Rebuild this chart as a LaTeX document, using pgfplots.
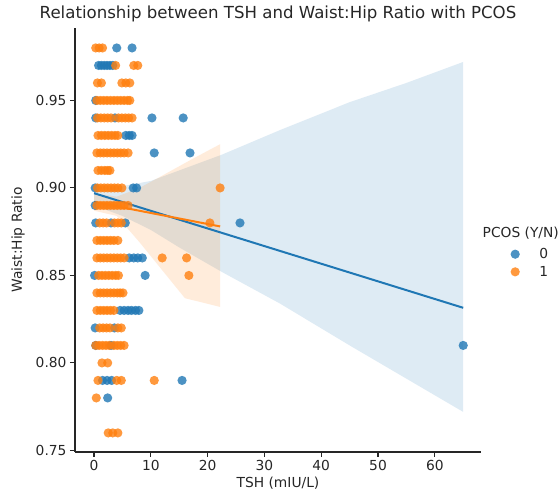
\documentclass[border=0pt]{standalone}
\usepackage{pgfplots}
\pgfplotsset{compat=1.18}
\usepackage{fontspec}
\setmainfont{DejaVu Sans}
\definecolor{cblue}{HTML}{1F77B4}
\definecolor{corange}{HTML}{FF7F0E}
\definecolor{txt}{HTML}{262626}
\begin{document}
\begin{tikzpicture}
\begin{axis}[
  at={(0,0)}, anchor=south west,
  scale only axis, width=406pt, height=424pt,
  xmin=-3.35, xmax=68.13, ymin=0.7491, ymax=0.9914,
  axis lines*=left,
  axis line style={color=txt, line width=1.1pt},
  tick align=outside, major tick length=5pt,
  tick style={color=txt, line width=1.1pt},
  xtick={0,10,20,30,40,50,60},
  ytick={0.75,0.80,0.85,0.90,0.95},
  yticklabel style={/pgf/number format/.cd, fixed, fixed zerofill, precision=2},
  /pgf/number format/assume math mode=true,
  ticklabel style={font=\fontsize{13.8}{16}\selectfont, text=txt},
  xlabel={TSH (mIU/L)}, ylabel={Waist:Hip Ratio},
  label style={font=\fontsize{13.8}{16}\selectfont, text=txt},
  xlabel style={at={(axis description cs:0.5,-0.073)}, anchor=center},
  ylabel style={at={(axis description cs:-0.140,0.5)}, anchor=center, rotate=0},
  clip=false,
  legend style={draw=none, fill=none, inner sep=0pt, outer sep=0pt,
    at={(axis description cs:1.0591,0.4458)}, anchor=west,
    font=\fontsize{13.8}{16}\selectfont, text=txt, row sep=6pt,
    nodes={inner sep=0pt, outer sep=0pt}},
  legend cell align=left,
  legend image code/.code={\path (0pt,0pt) (34pt,0pt); \draw[#1] plot coordinates {(10pt,0pt)};},
]
% blue scatter (PCOS = 0)
\addplot[only marks, color=cblue, mark=*, mark size=4.6pt, mark options={fill=cblue, fill opacity=0.8, draw opacity=0}] coordinates {
(4.0,0.98)(6.7,0.98)
(0.8,0.97)(1.3,0.97)(1.8,0.97)(2.3,0.97)(2.8,0.97)(3.3,0.97)
(0.3,0.95)
(0.3,0.94)(3.7,0.94)(10.2,0.94)(15.7,0.94)
(5.6,0.93)(6.2,0.93)(6.7,0.93)
(10.6,0.92)(16.9,0.92)
(0.2,0.90)(6.9,0.90)(7.5,0.90)
(0.2,0.89)
(0.3,0.88)(3.0,0.88)(5.5,0.88)(25.7,0.88)
(6.2,0.86)(7.0,0.86)(7.7,0.86)(8.5,0.86)
(0.1,0.85)(9.0,0.85)
(4.6,0.83)(5.3,0.83)(6.0,0.83)(6.6,0.83)(7.3,0.83)(7.9,0.83)
(0.2,0.82)(3.6,0.82)
(0.3,0.81)(3.0,0.81)(65.0,0.81)
(1.5,0.79)(2.3,0.79)(3.1,0.79)(15.5,0.79)
(2.4,0.78)
};
\addlegendentry{0}
% blue CI band
\addplot[fill=cblue, fill opacity=0.15, draw=none, forget plot] coordinates {
(0,0.901)(5,0.901)(10,0.904)(15,0.910)(22.5,0.919)(32.7,0.933)(45,0.949)(55,0.960)(65,0.972)
(65,0.772)(55,0.791)(45,0.810)(32.7,0.834)(22.5,0.852)(15,0.866)(10,0.876)(5,0.884)(0,0.890)
} -- cycle;
% orange scatter (PCOS = 1)
\addplot[only marks, color=corange, mark=*, mark size=4.6pt, mark options={fill=corange, fill opacity=0.8, draw opacity=0}] coordinates {
(0.3,0.98)(0.9,0.98)(1.5,0.98)
(3.8,0.97)(7.0,0.97)(7.7,0.97)
(0.6,0.96)(1.3,0.96)(4.9,0.96)(5.6,0.96)(6.3,0.96)
(0.5,0.95)(1.1,0.95)(1.7,0.95)(2.3,0.95)(2.9,0.95)(3.5,0.95)(4.1,0.95)(4.7,0.95)(5.3,0.95)(5.9,0.95)(6.3,0.95)
(0.6,0.94)(1.2,0.94)(1.8,0.94)(2.4,0.94)(3.0,0.94)(4.3,0.94)(4.9,0.94)(5.5,0.94)(6.1,0.94)(6.7,0.94)
(0.7,0.93)(1.3,0.93)(1.9,0.93)(2.5,0.93)(3.1,0.93)(3.7,0.93)(4.2,0.93)
(0.5,0.92)(1.1,0.92)(1.7,0.92)(2.3,0.92)(2.9,0.92)(3.5,0.92)(4.1,0.92)(4.7,0.92)(5.3,0.92)(6.0,0.92)
(0.7,0.91)(1.3,0.91)(1.9,0.91)(2.4,0.91)(2.8,0.91)
(0.6,0.90)(1.2,0.90)(1.8,0.90)(2.4,0.90)(3.0,0.90)(3.6,0.90)(4.2,0.90)(4.9,0.90)(22.2,0.90)
(0.5,0.89)(1.1,0.89)(1.7,0.89)(2.3,0.89)(2.9,0.89)(3.5,0.89)(4.1,0.89)(4.7,0.89)(5.3,0.89)(6.0,0.89)
(1.0,0.88)(1.6,0.88)(2.2,0.88)(3.6,0.88)(4.2,0.88)(4.8,0.88)(20.4,0.88)
(0.5,0.87)(1.1,0.87)(1.7,0.87)(2.3,0.87)(2.9,0.87)(3.5,0.87)(4.2,0.87)
(0.5,0.86)(1.1,0.86)(1.7,0.86)(2.3,0.86)(2.9,0.86)(3.5,0.86)(4.1,0.86)(4.7,0.86)(5.3,0.86)(12.0,0.86)(16.3,0.86)
(0.8,0.85)(1.4,0.85)(2.0,0.85)(2.6,0.85)(3.2,0.85)(3.8,0.85)(4.3,0.85)(16.7,0.85)
(0.5,0.84)(1.1,0.84)(1.7,0.84)(2.3,0.84)(2.9,0.84)(3.5,0.84)(4.1,0.84)(4.6,0.84)(5.1,0.84)
(0.5,0.83)(1.1,0.83)(1.7,0.83)(2.3,0.83)(2.9,0.83)(3.5,0.83)
(1.0,0.82)(1.6,0.82)(2.2,0.82)(2.8,0.82)(4.2,0.82)(4.8,0.82)
(0.3,0.81)(0.9,0.81)(1.5,0.81)(2.1,0.81)(2.7,0.81)(3.5,0.81)(4.1,0.81)(4.7,0.81)(5.3,0.81)
(1.4,0.80)(2.4,0.80)
(0.7,0.79)(4.0,0.79)(4.8,0.79)(10.6,0.79)
(0.4,0.78)
(2.5,0.76)(3.3,0.76)(4.2,0.76)
};
\addlegendentry{1}
% orange CI band
\addplot[fill=corange, fill opacity=0.15, draw=none, forget plot] coordinates {
(0,0.897)(4,0.895)(8,0.900)(12,0.907)(17,0.916)(22.2,0.925)
(22.2,0.832)(16,0.837)(12,0.853)(8,0.869)(4,0.884)(0,0.887)
} -- cycle;
% regression lines
\addplot[cblue, line width=2pt, forget plot] coordinates {(0,0.897)(65,0.8315)};
\addplot[corange, line width=2pt, forget plot] coordinates {(0,0.892)(22.2,0.878)};
\node[font=\fontsize{16.6}{20}\selectfont, text=txt] at (axis description cs:0.5,1.033) {Relationship between TSH and Waist:Hip Ratio with PCOS};
\node[font=\fontsize{13.8}{16}\selectfont, text=txt] at (axis description cs:1.098,0.5165) {PCOS (Y/N)};
\end{axis}
\pgfresetboundingbox
\path[use as bounding box] (-75pt,-45pt) rectangle (485pt,452pt);
\end{tikzpicture}
\end{document}
